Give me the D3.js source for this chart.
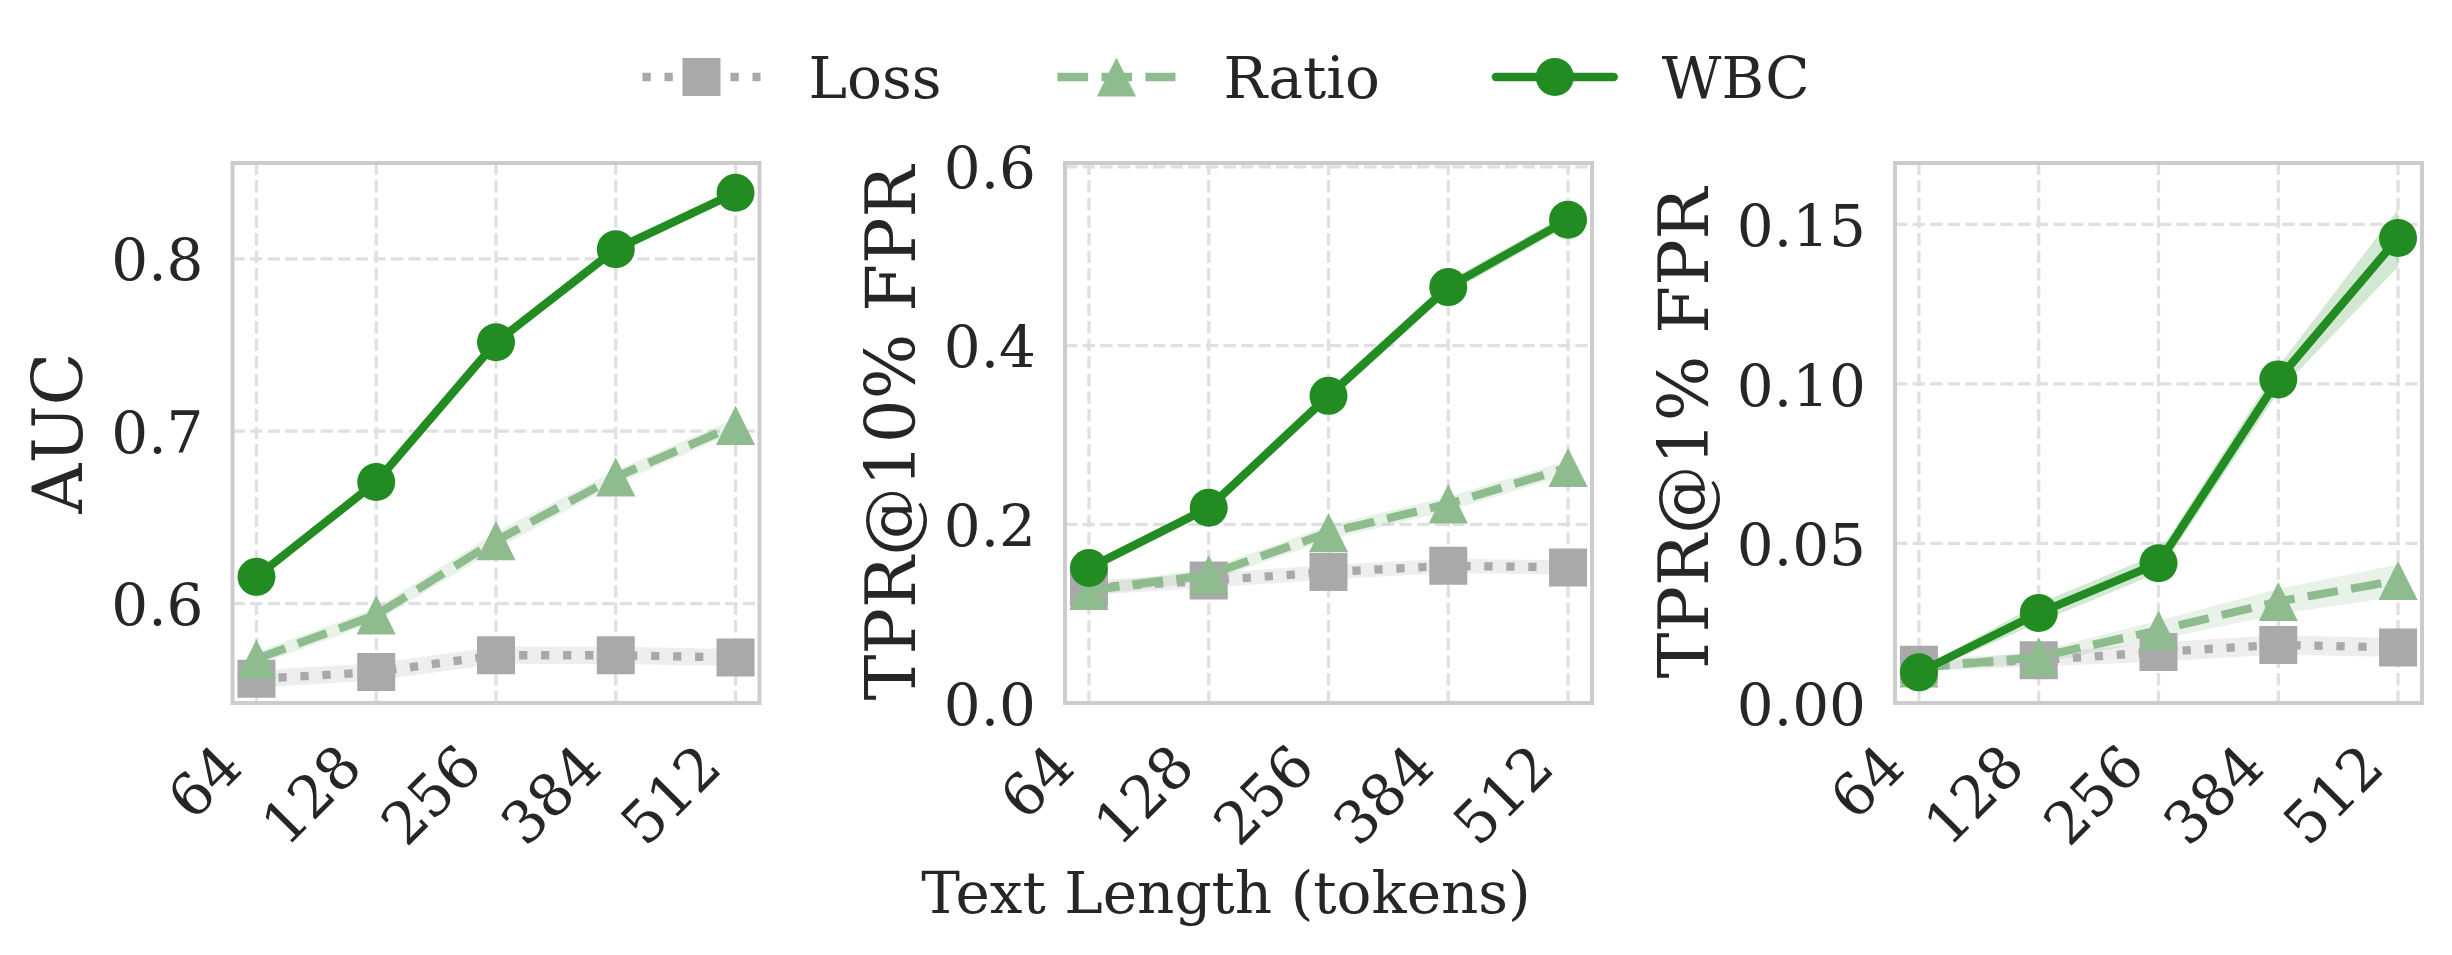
<!DOCTYPE html>
<html><head><meta charset="utf-8">
<script src="https://cdn.jsdelivr.net/npm/d3@7"></script>
<style>
body{margin:0;background:#fff}
svg{display:block}
text{font-family:"DejaVu Serif",serif;fill:#262626}
</style>
</head><body>
<svg id="c" width="2452" height="955"></svg>
<script>
// ---------------- data ----------------
const lengths = ["64", "128", "256", "384", "512"];
const methods = ["Loss", "Ratio", "WBC"];
const metricLabels = ["AUC", "TPR@10% FPR", "TPR@1% FPR"];
const xAxisLabel = "Text Length (tokens)";

const yTicksAUC = [0.6, 0.7, 0.8];
const yTicksTPR10 = [0.0, 0.2, 0.4, 0.6];
const yTicksTPR1 = [0.00, 0.05, 0.10, 0.15];
const yTickFmt = [".1f", ".1f", ".2f"];
const yDomainAUC = [0.5423, 0.8556];
const yDomainTPR10 = [0.0, 0.6043];
const yDomainTPR1 = [0.0, 0.1692];

// AUC
const aucLoss = [0.5563, 0.5603, 0.5700, 0.5700, 0.5687];
const aucRatio = [0.5679, 0.5934, 0.6365, 0.6734, 0.7034];
const aucWBC = [0.6155, 0.6705, 0.7516, 0.8056, 0.8383];
const aucLossErr = [0.005, 0.005, 0.005, 0.005, 0.005];
const aucRatioErr = [0.004, 0.004, 0.005, 0.004, 0.004];
const aucWBCErr = [0.002, 0.003, 0.003, 0.003, 0.002];
// TPR@10% FPR
const tpr10Loss = [0.129, 0.137, 0.1465, 0.1535, 0.1517];
const tpr10Ratio = [0.126, 0.1435, 0.1907, 0.2228, 0.2635];
const tpr10WBC = [0.151, 0.2185, 0.3437, 0.4654, 0.5408];
const tpr10LossErr = [0.008, 0.008, 0.008, 0.008, 0.008];
const tpr10RatioErr = [0.006, 0.007, 0.008, 0.008, 0.008];
const tpr10WBCErr = [0.005, 0.006, 0.007, 0.007, 0.007];
// TPR@1% FPR
const tpr1Loss = [0.0120, 0.0134, 0.0160, 0.0182, 0.0174];
const tpr1Ratio = [0.0110, 0.0144, 0.0228, 0.0318, 0.0384];
const tpr1WBC = [0.0096, 0.0282, 0.0438, 0.1014, 0.1457];
const tpr1LossErr = [0.002, 0.002, 0.003, 0.003, 0.003];
const tpr1RatioErr = [0.001, 0.002, 0.003, 0.004, 0.005];
const tpr1WBCErr = [0.001, 0.003, 0.003, 0.004, 0.009];

// ---------------- styles ----------------
const colors = {Loss: "#a9a9a9", Ratio: "#8fbc8f", WBC: "#228b22"};
const dashes = {Loss: "8.3,13.7", Ratio: "30.7,13.3", WBC: null};
const markerSym = {Loss: "square", Ratio: "triangle", WBC: "circle"};
const LW = 8.3, MS = 38;
const FS_TICK = 58, FS_LABEL = 69, FS_LEGEND = 58, FS_XLABEL = 58;

const panels = [
  {label: metricLabels[0], ticks: yTicksAUC, domain: yDomainAUC, fmt: yTickFmt[0],
   series: {Loss: [aucLoss, aucLossErr], Ratio: [aucRatio, aucRatioErr], WBC: [aucWBC, aucWBCErr]}},
  {label: metricLabels[1], ticks: yTicksTPR10, domain: yDomainTPR10, fmt: yTickFmt[1],
   series: {Loss: [tpr10Loss, tpr10LossErr], Ratio: [tpr10Ratio, tpr10RatioErr], WBC: [tpr10WBC, tpr10WBCErr]}},
  {label: metricLabels[2], ticks: yTicksTPR1, domain: yDomainTPR1, fmt: yTickFmt[2],
   series: {Loss: [tpr1Loss, tpr1LossErr], Ratio: [tpr1Ratio, tpr1RatioErr], WBC: [tpr1WBC, tpr1WBCErr]}}
];
const panelLefts = [232.5, 1065, 1895];
const panelW = 527, plotTop = 163, plotBottom = 703;

const svg = d3.select("#c");

function markerPath(sym, s) {
  const h = s / 2;
  if (sym === "square") return `M${-h},${-h}H${h}V${h}H${-h}Z`;
  if (sym === "triangle") { const t = h * 1.03; return `M0,${-t}L${t},${t}L${-t},${t}Z`; }
  return d3.arc()({innerRadius: 0, outerRadius: h, startAngle: 0, endAngle: 2 * Math.PI});
}

panels.forEach((p, i) => {
  const L = panelLefts[i], R = L + panelW;
  const x = d3.scalePoint().domain(lengths).range([L, R]).padding(0.2);
  const y = d3.scaleLinear().domain(p.domain).range([plotBottom, plotTop]);
  const g = svg.append("g");
  const clipId = "clip" + i;
  svg.append("clipPath").attr("id", clipId).append("rect")
    .attr("x", L).attr("y", plotTop).attr("width", panelW).attr("height", plotBottom - plotTop);

  // grid
  const grid = g.append("g").attr("stroke", "#e0e0e0").attr("stroke-width", 3.3)
    .attr("stroke-dasharray", "12.3,5.3").attr("fill", "none");
  lengths.forEach(c => grid.append("line").attr("x1", x(c)).attr("x2", x(c)).attr("y1", plotBottom).attr("y2", plotTop));
  p.ticks.forEach(t => grid.append("line").attr("x1", L).attr("x2", R).attr("y1", y(t)).attr("y2", y(t)));

  const plot = g.append("g").attr("clip-path", `url(#${clipId})`);
  // bands
  methods.forEach(m => {
    const [v, e] = p.series[m];
    const area = d3.area().x((d, k) => x(lengths[k])).y0((d, k) => y(v[k] - e[k])).y1((d, k) => y(v[k] + e[k]));
    plot.append("path").attr("d", area(v)).attr("fill", colors[m]).attr("fill-opacity", 0.2);
  });
  // lines + markers
  methods.forEach(m => {
    const [v] = p.series[m];
    const line = d3.line().x((d, k) => x(lengths[k])).y(d => y(d));
    const path = g.append("path").attr("d", line(v)).attr("fill", "none")
      .attr("stroke", colors[m]).attr("stroke-width", LW).attr("stroke-linejoin", "round");
    if (dashes[m]) path.attr("stroke-dasharray", dashes[m]).attr("stroke-linecap", "butt");
    else path.attr("stroke-linecap", "round");
    g.append("g").selectAll("path").data(v).join("path")
      .attr("transform", (d, k) => `translate(${x(lengths[k])},${y(d)})`)
      .attr("d", markerPath(markerSym[m], MS)).attr("fill", colors[m]);
  });
  // spines
  g.append("rect").attr("x", L).attr("y", plotTop).attr("width", panelW).attr("height", plotBottom - plotTop)
    .attr("fill", "none").attr("stroke", "#cccccc").attr("stroke-width", 4);

  // y axis
  const yAxis = d3.axisLeft(y).tickValues(p.ticks).tickFormat(d3.format(p.fmt)).tickSize(0).tickPadding(29);
  const ya = svg.append("g").attr("transform", `translate(${L},0)`).call(yAxis);
  ya.select(".domain").remove();
  ya.selectAll("text").attr("font-size", FS_TICK).attr("font-family", "DejaVu Serif").attr("fill", "#262626")
    .attr("dy", "0.3645em");
  const bb = ya.node().getBBox();
  const lx = L + bb.x - 33 + 4;
  svg.append("text").attr("transform", `translate(${lx},${(plotTop + plotBottom) / 2}) rotate(-90)`)
    .attr("text-anchor", "middle").attr("font-size", FS_LABEL).text(p.label);

  // x axis
  const xAxis = d3.axisBottom(x).tickSize(0).tickPadding(0);
  const xa = svg.append("g").attr("transform", `translate(0,${plotBottom})`).call(xAxis);
  xa.select(".domain").remove();
  xa.selectAll("text").attr("font-size", FS_TICK).attr("font-family", "DejaVu Serif").attr("fill", "#262626")
    .attr("text-anchor", "end").attr("dy", 0).attr("y", 0)
    .attr("transform", "translate(-12,67) rotate(-45)");
});

// x label
svg.append("text").attr("x", 1226).attr("y", 913).attr("text-anchor", "middle")
  .attr("font-size", FS_XLABEL).text(xAxisLabel);

// legend
const leg = svg.append("g");
const handleLen = 118, textPad = 48, colSpace = 116, legY = 77;
const items = methods.map(m => {
  const t = leg.append("text").attr("font-size", FS_LEGEND).attr("dy", "0.36em").text(m);
  return {m, t, w: t.node().getComputedTextLength()};
});
const totalW = d3.sum(items, d => handleLen + textPad + d.w) + colSpace * (items.length - 1);
let cx = 1226 - totalW / 2;
items.forEach(it => {
  const p = leg.append("path").attr("d", `M${cx},${legY}H${cx + handleLen}`).attr("fill", "none")
    .attr("stroke", colors[it.m]).attr("stroke-width", LW);
  if (dashes[it.m]) p.attr("stroke-dasharray", dashes[it.m]);
  else p.attr("stroke-linecap", "round");
  leg.append("path").attr("transform", `translate(${cx + handleLen / 2},${legY})`)
    .attr("d", markerPath(markerSym[it.m], MS)).attr("fill", colors[it.m]);
  it.t.attr("x", cx + handleLen + textPad).attr("y", legY);
  cx += handleLen + textPad + it.w + colSpace;
});
</script>
</body></html>
